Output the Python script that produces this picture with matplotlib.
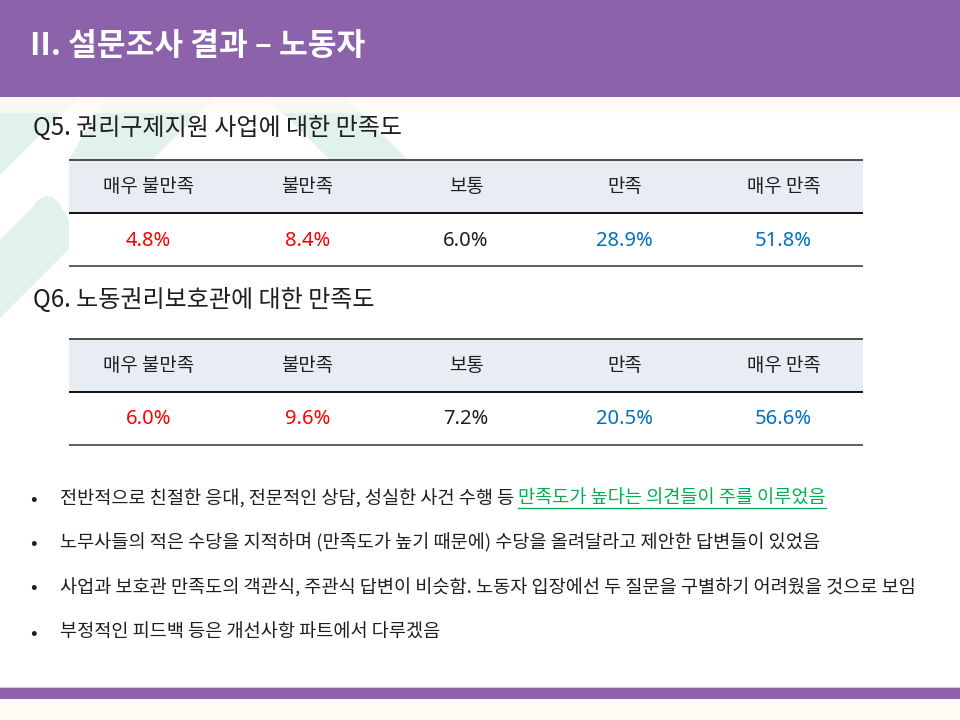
import matplotlib as mpl
import matplotlib.pyplot as plt
from matplotlib.patches import Rectangle, Polygon

mpl.use("Agg")

plt.rcParams["font.family"] = ["Noto Sans CJK KR", "DejaVu Sans"]

# ---------------------------------------------------------------- data
slide_title = "II. 설문조사 결과 – 노동자"
q5_title = "Q5. 권리구제지원 사업에 대한 만족도"
q6_title = "Q6. 노동권리보호관에 대한 만족도"

categories = ["매우 불만족", "불만족", "보통", "만족", "매우 만족"]
q5_values = [4.8, 8.4, 6.0, 28.9, 51.8]
q6_values = [6.0, 9.6, 7.2, 20.5, 56.6]

bullet_1_plain = "전반적으로 친절한 응대, 전문적인 상담, 성실한 사건 수행 등 "
bullet_1_green = "만족도가 높다는 의견들이 주를 이루었음"
bullets_rest = [
    "노무사들의 적은 수당을 지적하며 (만족도가 높기 때문에) 수당을 올려달라고 제안한 답변들이 있었음",
    "사업과 보호관 만족도의 객관식, 주관식 답변이 비슷함. 노동자 입장에선 두 질문을 구별하기 어려웠을 것으로 보임",
    "부정적인 피드백 등은 개선사항 파트에서 다루겠음",
]

# ---------------------------------------------------------------- style
PURPLE = "#8C63AA"
CREAM = "#FFFBF2"
MINT = "#E0F1EE"
HEAD_FILL = "#E8ECF3"
TEXT = "#1E1E1E"
col_colors = ["#FF0000", "#FF0000", "#1E1E1E", "#0070C0", "#0070C0"]
BODY_FS = 13.4

fig = plt.figure(figsize=(9.6, 7.2), dpi=100)
ax = fig.add_axes([0, 0, 1, 1])
ax.set_xlim(0, 960)
ax.set_ylim(720, 0)
ax.axis("off")

# background decoration (pale chevrons on the left)
shapes = [
    [(0, 97), (78, 97), (0, 175)],
    [(105, 97), (215, 97), (152, 160), (69, 160)],
    [(267, 97), (345, 97), (408, 160), (330, 160)],
    [(0, 240), (32, 208), (38, 200), (45, 196), (52, 197), (58, 202),
     (69, 219), (69, 249), (0, 318)],
]
for pts in shapes:
    ax.add_patch(Polygon(pts, closed=True, facecolor=MINT, edgecolor="none", zorder=0))

# header
ax.add_patch(Rectangle((0, 0), 960, 97, facecolor=PURPLE, edgecolor="none", zorder=2))
ax.add_patch(Rectangle((0, 97), 960, 16, facecolor=CREAM, edgecolor="none", zorder=0.5, alpha=0.8))
ax.text(30, 46, slide_title, color="white", fontsize=22.5, fontweight="bold",
        va="center", ha="left", zorder=3)

# footer
ax.add_patch(Rectangle((0, 687), 960, 1.5, facecolor="#D6CCE2", edgecolor="none", zorder=2))
ax.add_patch(Rectangle((0, 688), 960, 11, facecolor=PURPLE, edgecolor="none", zorder=2))
ax.add_patch(Rectangle((0, 699), 960, 21, facecolor=CREAM, edgecolor="none", zorder=2))


def draw_table(top, values):
    left, right = 69, 863
    row_h = 53
    col_w = (right - left) / len(categories)
    ax.add_patch(Rectangle((left, top), right - left, row_h, facecolor=HEAD_FILL,
                           edgecolor="none", zorder=1))
    ax.add_patch(Rectangle((left, top + row_h), right - left, row_h, facecolor="white",
                           edgecolor="none", zorder=1))
    ax.plot([left, right], [top, top], color="#404040", lw=1.3, zorder=3,
            solid_capstyle="butt")
    ax.plot([left, right], [top + row_h, top + row_h], color="black", lw=1.3, zorder=3,
            solid_capstyle="butt")
    ax.plot([left, right], [top + 2 * row_h, top + 2 * row_h], color="#505050", lw=1.3,
            zorder=3, solid_capstyle="butt")
    for i, (cat, val) in enumerate(zip(categories, values)):
        cx = left + col_w * (i + 0.5)
        ax.text(cx, top + row_h / 2, cat, ha="center", va="center", fontsize=13.6,
                color=TEXT, zorder=4)
        ax.text(cx, top + row_h * 1.5 + 1, f"{val:.1f}%", ha="center", va="center",
                fontsize=14.5, color=col_colors[i], zorder=4,
                family=["Noto Sans", "DejaVu Sans"])


# white panel behind the tables / body
ax.add_patch(Rectangle((69, 160), 891, 528, facecolor="white", edgecolor="none", zorder=0.8))

ax.text(33, 128, q5_title, fontsize=17.3, color=TEXT, va="center", ha="left", zorder=4)
draw_table(160, q5_values)

ax.text(33, 300, q6_title, fontsize=17.3, color=TEXT, va="center", ha="left", zorder=4)
draw_table(339, q6_values)

# bullets
bullet_y = [499, 543, 588, 633]
for y in bullet_y:
    ax.text(30, y, "•", fontsize=14, color=TEXT, va="center", ha="left", zorder=4)

t1 = ax.text(60, bullet_y[0], bullet_1_plain, fontsize=BODY_FS, color=TEXT,
             va="center", ha="left", zorder=4)
fig.canvas.draw()
bb = t1.get_window_extent(renderer=fig.canvas.get_renderer())
x_green = ax.transData.inverted().transform((bb.x1, 0))[0]
t2 = ax.text(x_green, bullet_y[0], bullet_1_green, fontsize=BODY_FS, color="#00B050",
             va="center", ha="left", zorder=4)
fig.canvas.draw()
bb2 = t2.get_window_extent(renderer=fig.canvas.get_renderer())
x_end = ax.transData.inverted().transform((bb2.x1, 0))[0]
ax.plot([x_green, x_end], [bullet_y[0] + 9, bullet_y[0] + 9], color="#00B050", lw=0.9,
        zorder=4)

for y, line in zip(bullet_y[1:], bullets_rest):
    ax.text(60, y, line, fontsize=BODY_FS, color=TEXT, va="center", ha="left", zorder=4)

fig.savefig("out.png", dpi=100, facecolor="white")
